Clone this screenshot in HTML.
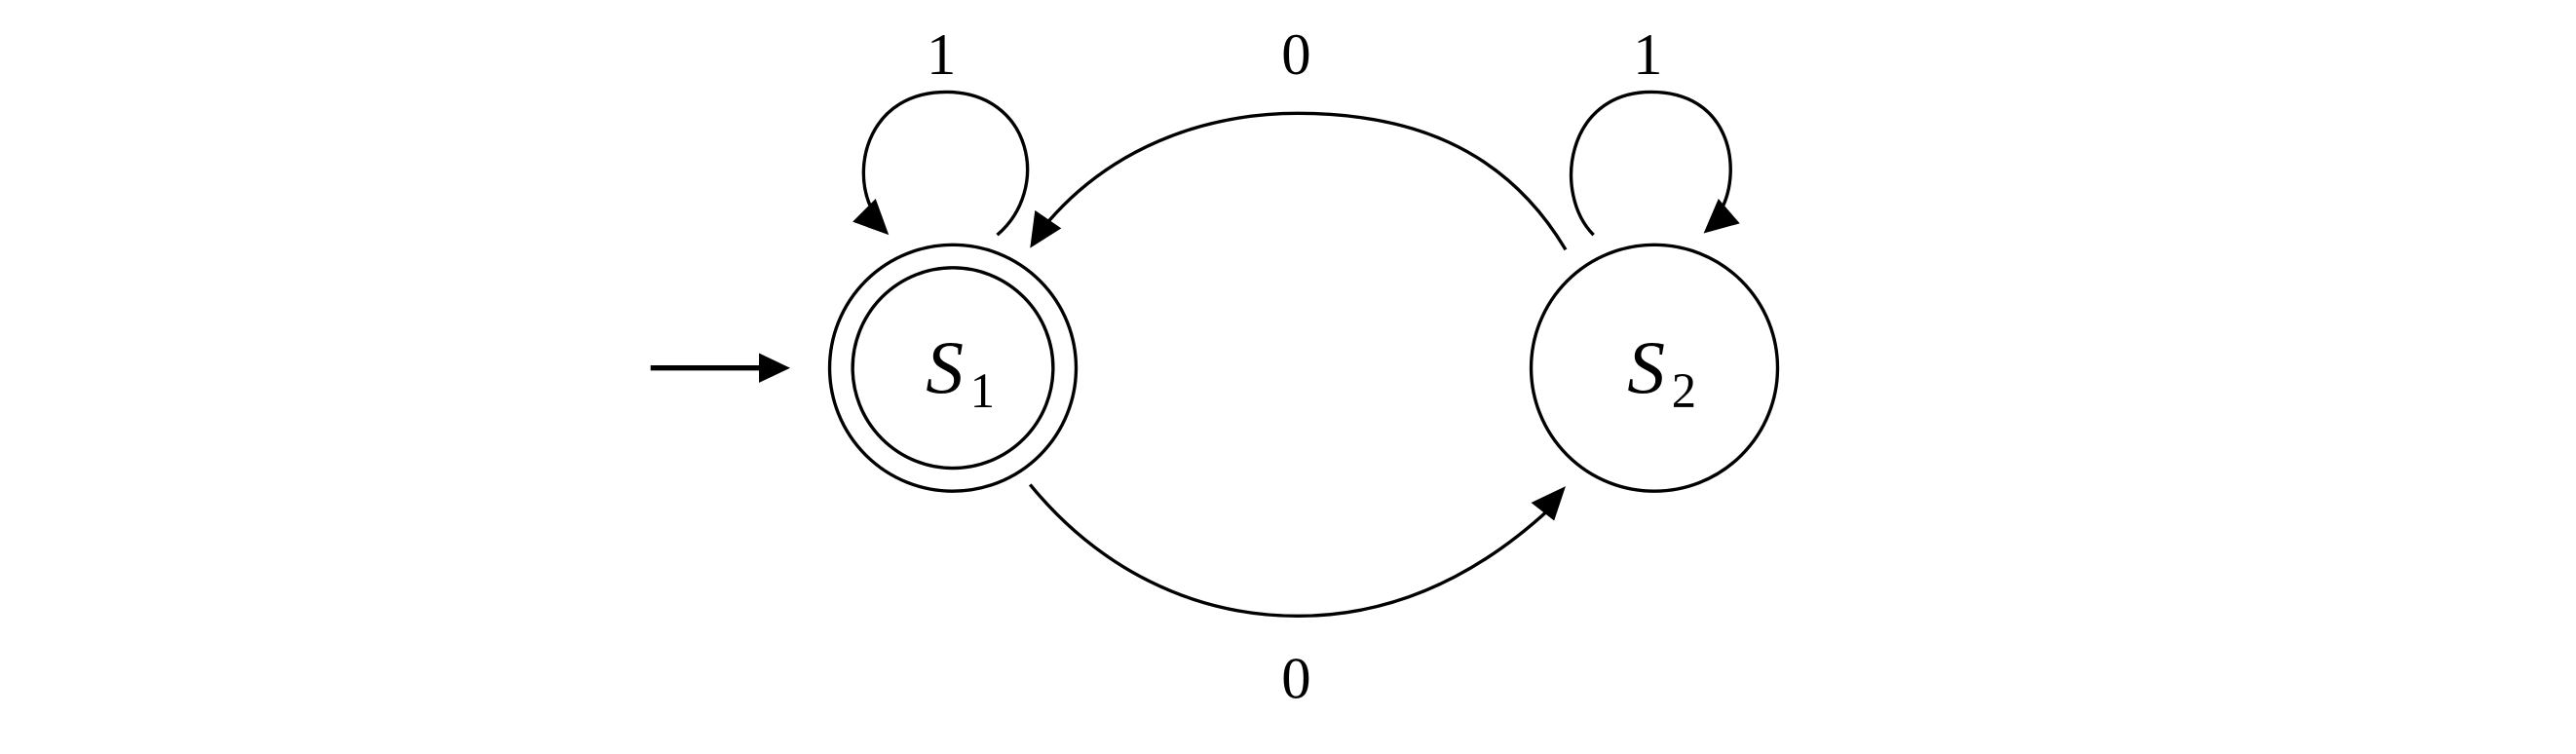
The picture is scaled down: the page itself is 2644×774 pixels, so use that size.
<!DOCTYPE html>
<html><head><style>html,body{margin:0;padding:0;background:#fff;}svg{display:block}</style></head>
<body>
<svg width="2644" height="774" viewBox="0 0 1568 459" xmlns="http://www.w3.org/2000/svg">
<g fill="none" stroke="#000" stroke-width="2">
<circle cx="580" cy="224" r="75"/>
<circle cx="580" cy="224" r="61"/>
<circle cx="1007" cy="224" r="75"/>
<line x1="396" y1="224" x2="465" y2="224" stroke-width="3.2"/>
<path d="M607 143 C640 115 628 56 576 56 C530 56 518 100 530 126"/>
<path d="M970 143 C945 118 953 56 1005 56 C1052 56 1060 100 1049 125"/>
<path d="M953 152 C915 88 855 69 790 69 C730 69 675 92 638 135"/>
<path d="M627 295 C668 345 725 375 790 375 C855 375 905 345 943 310"/>
</g>
<g fill="#000">
<polygon points="462,215 481,224 462,233"/>
<polygon points="519,135 533,121 541,143"/>
<polygon points="1037,142 1046,121 1059,136"/>
<polygon points="627,151 630,128 646,139"/>
<polygon points="953,296 932,306 946,317"/>
</g>
<g font-family="Liberation Serif, serif" fill="#000" text-anchor="middle">
<text x="573" y="45" font-size="36">1</text>
<text x="789" y="45" font-size="36">0</text>
<text x="1003" y="45" font-size="36">1</text>
<text x="789" y="425" font-size="36">0</text>
<text x="575" y="239" font-size="46" font-style="italic">S</text>
<text x="598" y="248" font-size="30">1</text>
<text x="1002" y="239" font-size="46" font-style="italic">S</text>
<text x="1025" y="248" font-size="30">2</text>
</g>
</svg>
</body></html>
